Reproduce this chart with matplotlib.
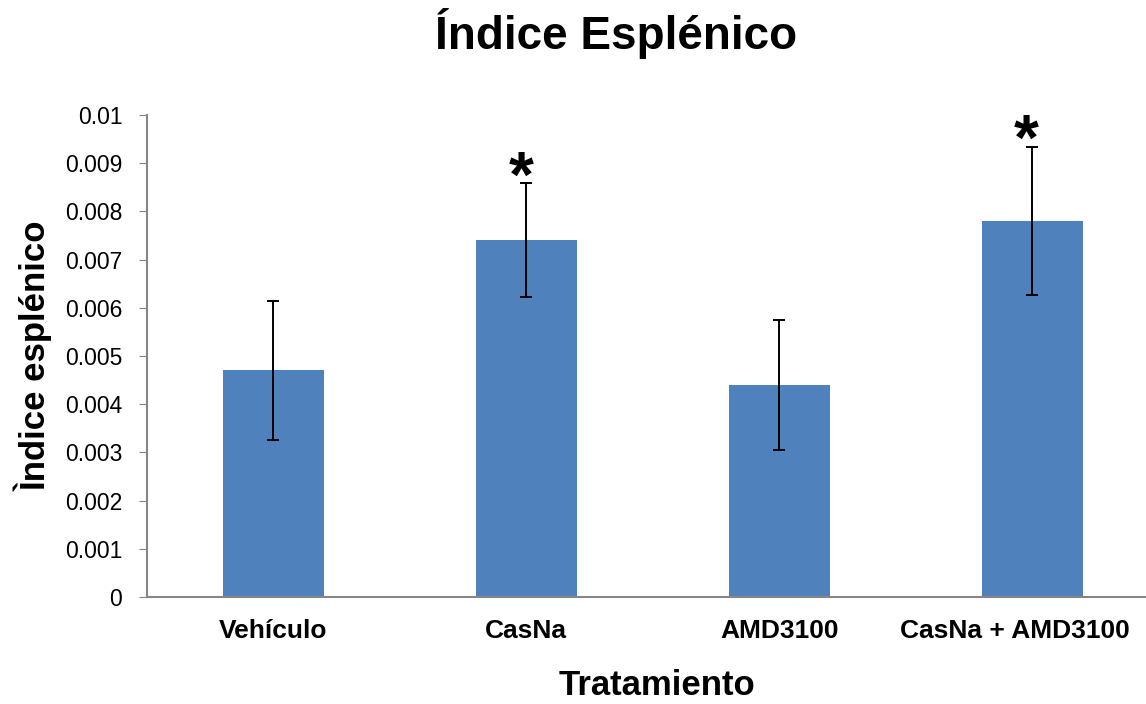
import matplotlib
matplotlib.use("Agg")
import matplotlib.pyplot as plt
from matplotlib.transforms import ScaledTranslation

categories = ["Vehículo", "CasNa", "AMD3100", "CasNa + AMD3100"]
values = [0.0047, 0.0074, 0.0044, 0.0078]
errors = [0.00145, 0.00118, 0.00135, 0.00154]
significant = [False, True, False, True]
yticks = [0, 0.001, 0.002, 0.003, 0.004, 0.005, 0.006, 0.007, 0.008, 0.009, 0.01]
ytick_labels = ["0", "0.001", "0.002", "0.003", "0.004", "0.005", "0.006", "0.007", "0.008", "0.009", "0.01"]

plt.rcParams["font.family"] = ["Liberation Sans", "DejaVu Sans"]

W, H = 1146, 704
fig = plt.figure(figsize=(W/100, H/100), dpi=100)
ax = fig.add_axes([147/W, 1-597/H, (W-147)/W, (597-115)/H])

x = list(range(len(categories)))
ax.bar(x, values, width=0.4, color="#4F81BD", zorder=2)
ax.errorbar(x, values, yerr=errors, fmt="none", ecolor="black", elinewidth=1.4,
            capsize=4.3, capthick=1.4, zorder=3)
for xi, v, e, s in zip(x, values, errors, significant):
    if s:
        ax.annotate("*", xy=(xi, v + e), xytext=(-4, -19), textcoords="offset points",
                    ha="center", va="bottom", fontsize=46, fontweight="bold")

ax.set_xlim(-0.5, 3.45)
ax.set_ylim(0, 0.01)
ax.set_yticks(yticks)
ax.set_yticklabels(ytick_labels, fontsize=16.5)
ax.set_xticks(x)
ax.set_xticklabels(categories, fontsize=19, fontweight="bold")
ax.tick_params(axis="x", length=0, pad=16)
ax.tick_params(axis="y", length=5.8, color="#868686", pad=12)

# last category label is pushed left to stay inside the figure
last = ax.get_xticklabels()[-1]
last.set_transform(last.get_transform() + ScaledTranslation(-0.17, 0, fig.dpi_scale_trans))

for sp in ["top", "right"]:
    ax.spines[sp].set_visible(False)
for sp in ["left", "bottom"]:
    ax.spines[sp].set_color("#868686")
    ax.spines[sp].set_linewidth(1.5)

fig.text(657/W, 1-695/H, "Tratamiento", ha="center", va="baseline",
         fontsize=25, fontweight="bold")
fig.text(33/W, 1-356/H, "Ìndice esplénico", ha="center", va="center", rotation=90,
         fontsize=25, fontweight="bold")
fig.text(616/W, 1-49/H, "Índice Esplénico", ha="center", va="baseline",
         fontsize=33, fontweight="bold")

fig.savefig("out.png", dpi=100)
